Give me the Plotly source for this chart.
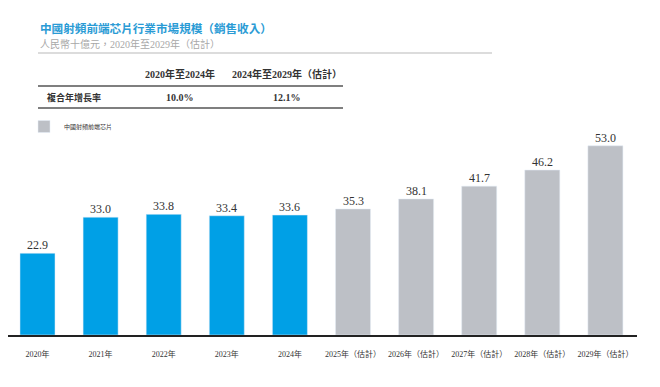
import plotly.graph_objects as go

categories = ["2020年", "2021年", "2022年", "2023年", "2024年",
              "2025年（估計）", "2026年（估計）", "2027年（估計）", "2028年（估計）", "2029年（估計）"]
hist_values = [22.9, 33.0, 33.8, 33.4, 33.6]
proj_values = [35.3, 38.1, 41.7, 46.2, 53.0]
hist_cats = categories[:5]
proj_cats = categories[5:]

title_text = "中國射頻前端芯片行業市場規模（銷售收入）"
subtitle_text = "人民幣十億元，2020年至2029年（估計）"
table_headers = ["2020年至2024年", "2024年至2029年（估計）"]
table_row_label = "複合年增長率"
table_row_values = ["10.0%", "12.1%"]
legend_name = "中國射頻前端芯片"

# page body has an 8px margin; work in window pixels and convert
OFF = 8
W, H = 660 - OFF, 387 - OFF
ML, MR = 0, 660 - 637
MB = 387 - 335
MT = 130 - OFF
PW, PH = W - ML - MR, H - MT - MB

def px(x):
    return (x - OFF - ML) / PW

def py(y):
    return (387 - MB - y) / PH

STEP = 63.1
x0 = -(37.5 - OFF - ML) / STEP
x1 = x0 + PW / STEP

SERIF = "Liberation Serif, Noto Sans CJK TC, serif"
CJK = "Noto Sans CJK TC, Liberation Serif, serif"

fig = go.Figure()
fig.add_trace(go.Bar(
    x=hist_cats, y=hist_values, marker_color="#00A0E6", width=0.555,
    showlegend=False, hoverinfo="x+y",
))
fig.add_trace(go.Bar(
    x=proj_cats, y=proj_values, marker_color="#BDC0C6", width=0.555,
    name=legend_name, showlegend=True, hoverinfo="x+y",
))

annotations = [
    dict(text=f"<b>{title_text}</b>", x=px(38), y=py(28), xanchor="left", yanchor="middle",
         font=dict(family=CJK, size=11.6, color="#2A9BD5")),
    dict(text=subtitle_text, x=px(38), y=py(44), xanchor="left", yanchor="middle",
         font=dict(family=SERIF, size=10, color="#A8A8A8")),
    dict(text=f"<b>{table_headers[0]}</b>", x=px(180), y=py(74), xanchor="center", yanchor="middle",
         font=dict(family=SERIF, size=10, color="#333333")),
    dict(text=f"<b>{table_headers[1]}</b>", x=px(287), y=py(74), xanchor="center", yanchor="middle",
         font=dict(family=SERIF, size=10, color="#333333")),
    dict(text=f"<b>{table_row_label}</b>", x=px(45), y=py(97), xanchor="left", yanchor="middle",
         font=dict(family=CJK, size=9, color="#333333")),
    dict(text=f"<b>{table_row_values[0]}</b>", x=px(180), y=py(97), xanchor="center", yanchor="middle",
         font=dict(family=SERIF, size=10, color="#333333")),
    dict(text=f"<b>{table_row_values[1]}</b>", x=px(287), y=py(97), xanchor="center", yanchor="middle",
         font=dict(family=SERIF, size=10, color="#333333")),
]
for a in annotations:
    a.update(xref="paper", yref="paper", showarrow=False)

for c, v in list(zip(hist_cats, hist_values)) + list(zip(proj_cats, proj_values)):
    annotations.append(dict(
        x=c, y=v, xref="x", yref="y", text=f"{v:.1f}", showarrow=False,
        xanchor="center", yanchor="bottom", yshift=-1,
        font=dict(family=SERIF, size=12, color="#333333"),
    ))

shapes = [
    dict(type="line", x0=px(38), x1=px(492), y0=py(53), y1=py(53), line=dict(color="#D0D0D0", width=1.5)),
    dict(type="line", x0=px(38), x1=px(343), y0=py(86), y1=py(86), line=dict(color="#555555", width=1.5)),
    dict(type="line", x0=px(38), x1=px(343), y0=py(108), y1=py(108), line=dict(color="#555555", width=1.5)),
]
for s in shapes:
    s.update(xref="paper", yref="paper")

fig.update_layout(
    width=W, height=H,
    margin=dict(l=ML, r=MR, t=MT, b=MB, pad=0),
    paper_bgcolor="white", plot_bgcolor="white",
    barmode="overlay",
    annotations=annotations,
    shapes=shapes,
    legend=dict(x=px(24), y=py(112), xanchor="left", yanchor="top",
                font=dict(family=CJK, size=6, color="#333333"),
                bgcolor="rgba(0,0,0,0)", itemwidth=30),
    xaxis=dict(categoryorder="array", categoryarray=categories, range=[x0, x1],
               showline=True, linecolor="#222222", linewidth=1.5,
               ticks="outside", ticklen=11, tickcolor="rgba(0,0,0,0)",
               tickfont=dict(family=SERIF, size=8, color="#333333"),
               showgrid=False, zeroline=False, fixedrange=True),
    yaxis=dict(range=[0, PH / 3.57], visible=False, showgrid=False, zeroline=False),
)

fig.write_html("out.html")
